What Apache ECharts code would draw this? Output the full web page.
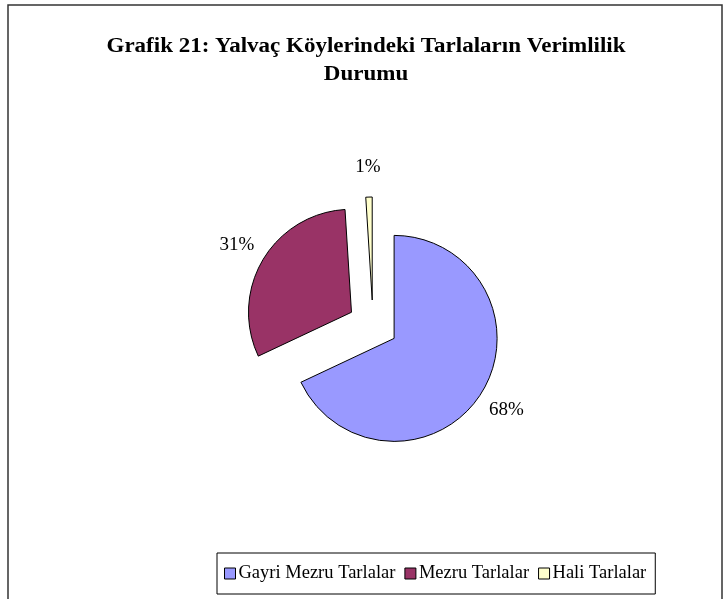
<!DOCTYPE html>
<html>
<head>
<meta charset="utf-8">
<script src="https://cdn.jsdelivr.net/npm/echarts@6/dist/echarts.min.js"></script>
<style>
html,body{margin:0;padding:0;background:#fff;}
#chart{width:723px;height:599px;}
</style>
</head>
<body>
<div id="chart"></div>
<script>
const titleText = 'Grafik 21: Yalvaç Köylerindeki Tarlaların Verimlilik\nDurumu';
const categories = ['Gayri Mezru Tarlalar', 'Mezru Tarlalar', 'Hali Tarlalar'];
const values = [68, 31, 1];
const colors = ['#9999FF', '#993366', '#FFFFCC'];

const serif = '"Liberation Serif", "Times New Roman", serif';
const pieCenter = [373, 325];
const pieRadius = 103;
const explode = 25;

const mainData = categories.map((c, i) => ({
  name: c, value: values[i], selected: true,
  itemStyle: { color: colors[i] }
}));
const labelData = categories.map((c, i) => ({
  name: c, value: values[i], selected: true
}));

const chart = echarts.init(document.getElementById('chart'), null, { renderer: 'canvas' });
chart.setOption({
  animation: false,
  backgroundColor: '#fff',
  graphic: [
    {
      type: 'rect', silent: true,
      shape: { x: 8, y: 5, width: 714, height: 600 },
      style: { fill: 'none', stroke: '#333', lineWidth: 1.5 }
    },
    {
      type: 'text', silent: true,
      x: 366, y: 33,
      scaleX: 1.15,
      style: {
        text: titleText,
        textAlign: 'center',
        textVerticalAlign: 'top',
        fontFamily: serif,
        fontWeight: 'bold',
        fontSize: 20,
        lineHeight: 28,
        fill: '#000'
      }
    }
  ],
  legend: {
    data: categories,
    left: 217,
    top: 553,
    orient: 'horizontal',
    icon: 'rect',
    itemWidth: 11,
    itemHeight: 11,
    itemGap: 9,
    padding: [11, 9, 11, 7],
    borderColor: '#000',
    borderWidth: 1,
    itemStyle: { borderColor: '#000', borderWidth: 1 },
    textStyle: { fontFamily: serif, fontSize: 18.5, color: '#000', padding: [0, 0, 0, -2] }
  },
  series: [
    {
      type: 'pie',
      center: pieCenter,
      radius: pieRadius,
      startAngle: 90,
      clockwise: true,
      selectedMode: 'multiple',
      selectedOffset: explode,
      silent: true,
      label: { show: false },
      labelLine: { show: false },
      itemStyle: { borderColor: '#000', borderWidth: 1 },
      emphasis: { disabled: true },
      data: mainData
    },
    {
      type: 'pie',
      center: pieCenter,
      radius: [pieRadius + 18, pieRadius + 36],
      startAngle: 90,
      clockwise: true,
      selectedMode: 'multiple',
      selectedOffset: explode,
      silent: true,
      itemStyle: { color: 'rgba(0,0,0,0)' },
      emphasis: { disabled: true },
      label: {
        show: true,
        position: 'inside',
        formatter: p => p.value + '%',
        fontFamily: serif,
        fontSize: 19,
        color: '#000'
      },
      labelLine: { show: false },
      data: labelData
    }
  ]
});
</script>
</body>
</html>
